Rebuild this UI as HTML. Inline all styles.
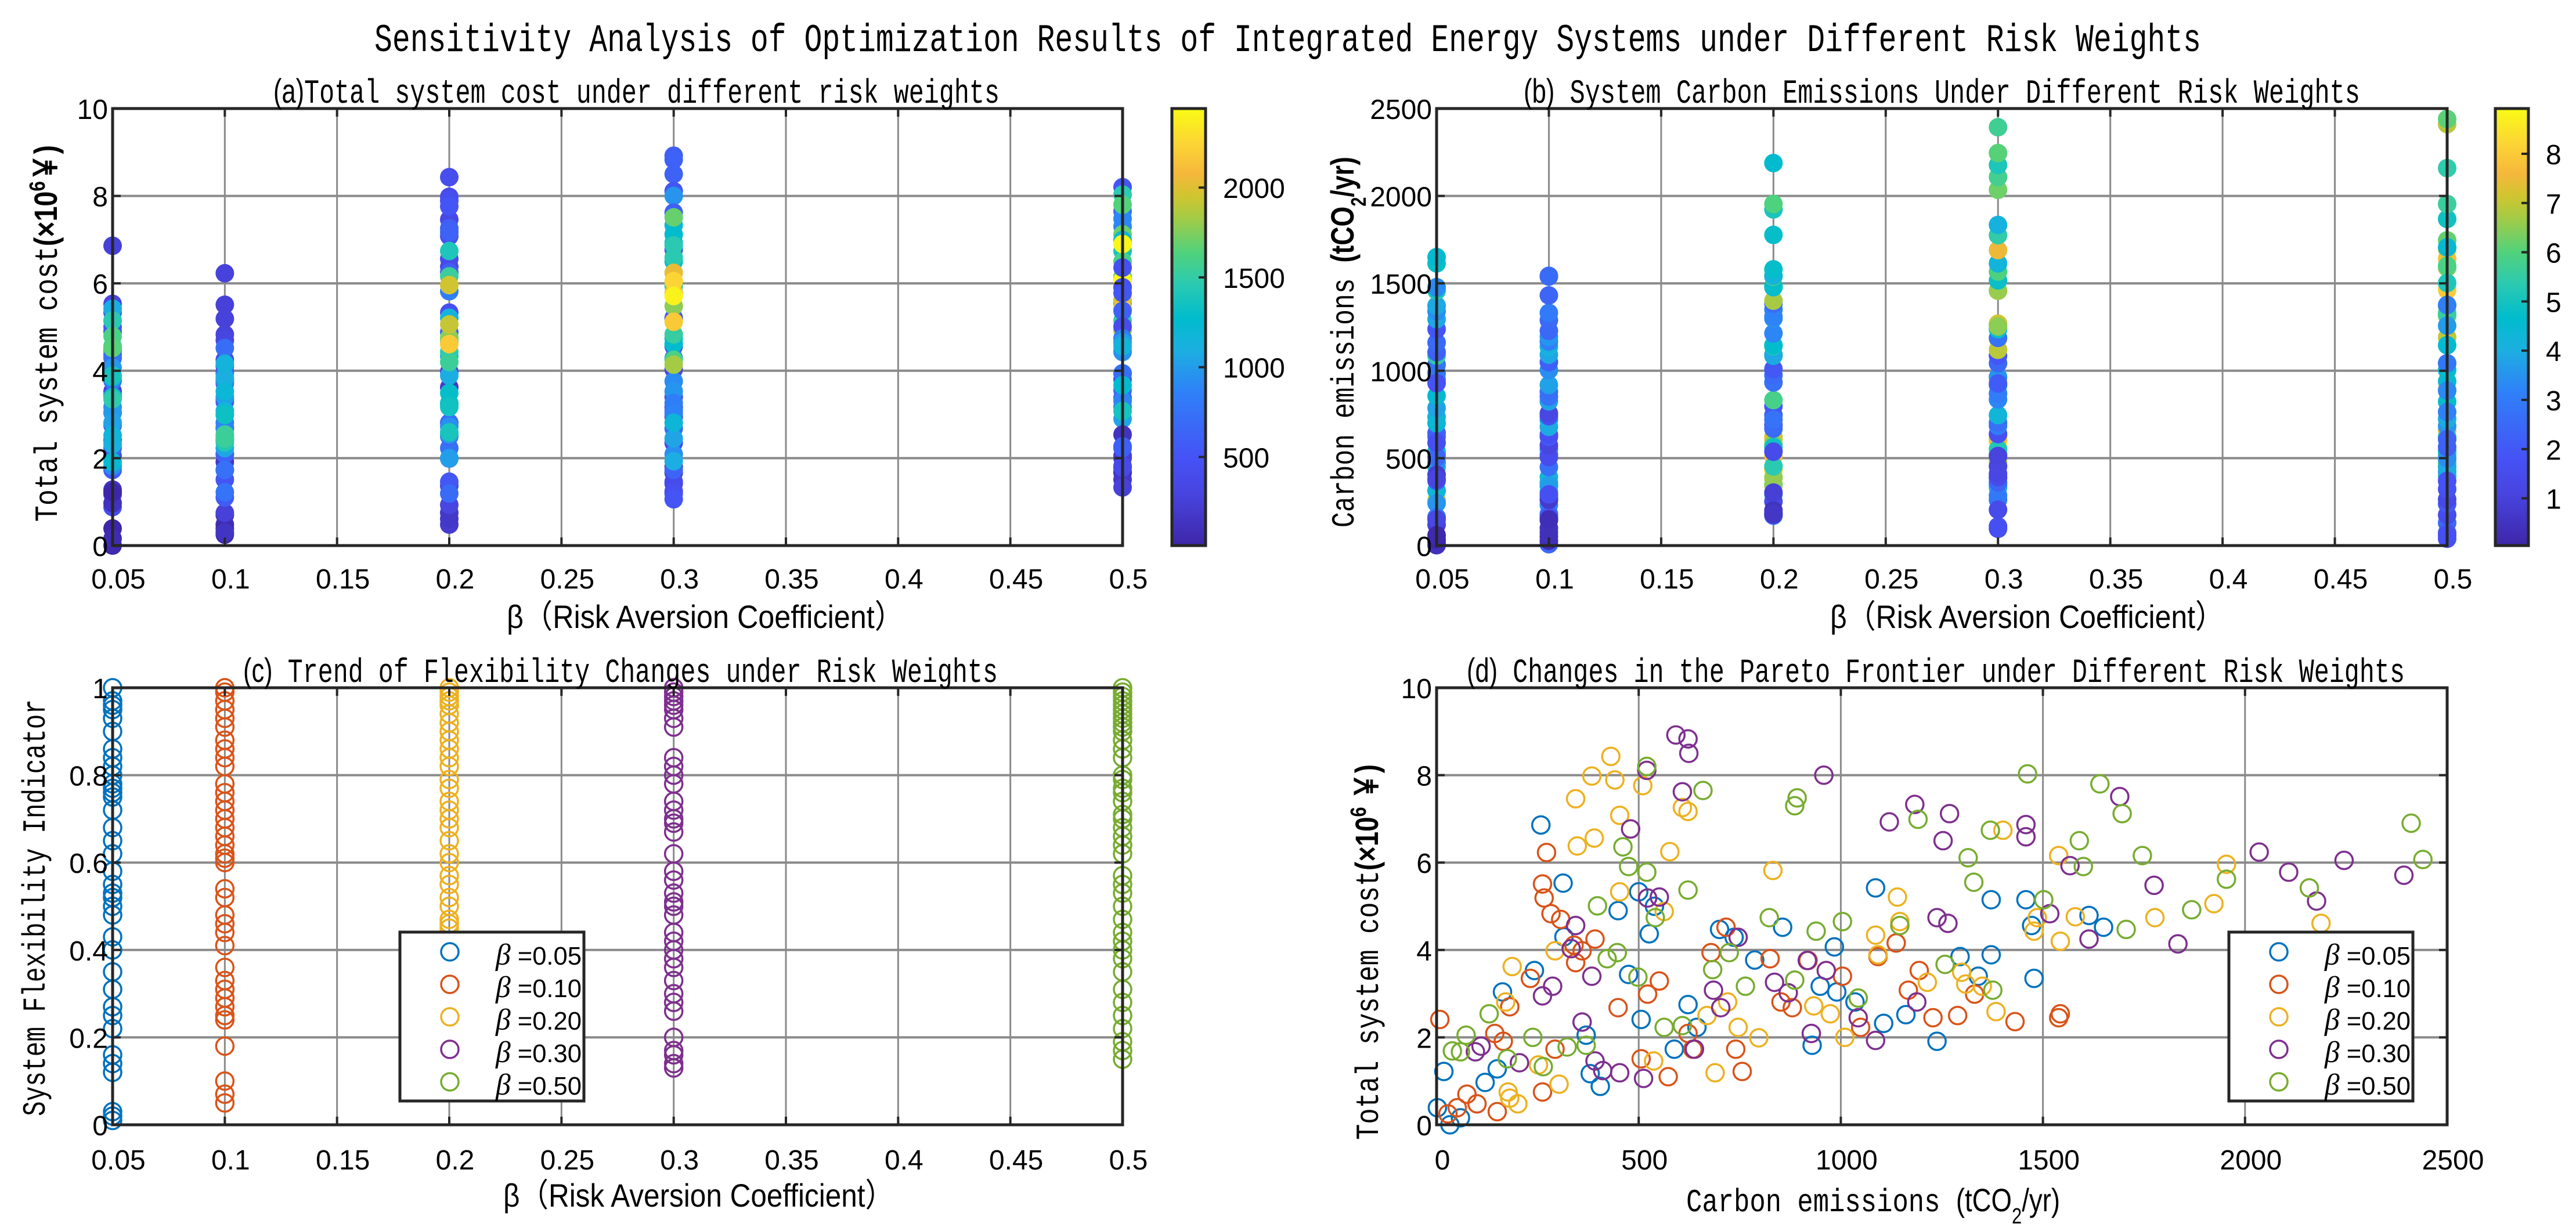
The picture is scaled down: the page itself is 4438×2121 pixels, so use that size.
<!DOCTYPE html>
<html><head><meta charset="utf-8">
<style>
html,body{margin:0;padding:0;background:#fff;}
svg{display:block;}
text{fill:#000;}
</style></head>
<body>
<svg id="fig" xmlns="http://www.w3.org/2000/svg" width="4438" height="2121" viewBox="0 0 4438 2121">
<rect x="0" y="0" width="4438" height="2121" fill="#fff"/>
<defs>
<linearGradient id="parula" x1="0" y1="1" x2="0" y2="0">
<stop offset="0" stop-color="#3e26a8"/><stop offset="0.12" stop-color="#4845e0"/><stop offset="0.2" stop-color="#4652f5"/>
<stop offset="0.35" stop-color="#2f80f8"/><stop offset="0.45" stop-color="#1bb0e0"/><stop offset="0.52" stop-color="#00bccd"/>
<stop offset="0.6" stop-color="#2ccab0"/><stop offset="0.67" stop-color="#50d27c"/><stop offset="0.75" stop-color="#a4cb45"/>
<stop offset="0.8" stop-color="#d0c530"/><stop offset="0.85" stop-color="#f5b73b"/><stop offset="0.92" stop-color="#fcd535"/>
<stop offset="1" stop-color="#f9fb14"/>
</linearGradient>
</defs>
<text x="645" y="88" font-family="Liberation Mono, monospace" font-size="68" textLength="3147" lengthAdjust="spacingAndGlyphs">Sensitivity Analysis of Optimization Results of Integrated Energy Systems under Different Risk Weights</text>
<g id="root"></g>
</svg>
<script>
// ---- data ----
const betas = [0.05, 0.10, 0.20, 0.30, 0.50];
const betaLabels = ['=0.05', '=0.10', '=0.20', '=0.30', '=0.50'];
const cost05 = [6.86,5.53,5.33,4.9,5.0,4.37,4.3,3.53,3.04,3.44,2.05,2.41,2.75,2.23,1.73,0.88,1.17,0.97,1.28,1.22,0.39,0.0,0.16,4.47,4.29,3.77,4.52,4.07,3.17,3.04,1.82,2.81,5.42,2.32,2.52,1.91,3.85,3.4,5.15,3.89,5.15,4.56,3.35,4.79,4.52];
const carbon05 = [258,313,500,449,539,526,315,242,163,475,370,506,622,644,588,405,380,120,150,18,2,33,59,700,736,787,856,984,949,990,929,1035,1086,1106,1161,1238,1295,1340,1372,1372,1458,1472,1478,1614,1650];
const cost10 = [2.41,6.23,5.51,5.19,4.83,4.7,4.11,3.98,4.25,3.71,3.35,2.7,1.91,2.09,0.7,0.48,0.25,0.39,0.3,0.75,1.73,2.68,2.99,3.29,1.51,1.1,2.09,1.73,4.52,3.94,1.73,1.22,3.8,2.81,2.68,3.76,3.4,2.23,3.85,4.16,3.08,3.53,2.45,2.5,2.99,2.36,2.45,2.54];
const carbon10 = [8,272,262,266,283,307,340,360,392,344,232,181,165,144,75,100,28,51,150,262,293,449,522,551,506,573,622,634,716,679,740,756,825,852,880,919,1004,1049,1092,1137,1167,1194,1228,1289,1331,1431,1539,1543];
const cost20 = [8.43,7.98,7.89,7.46,7.08,6.38,6.56,7.76,7.26,7.17,6.25,5.33,4.88,3.98,3.62,2.81,1.37,0.75,0.48,0.61,0.93,1.46,1.19,2.23,1.99,2.5,2.81,5.82,2.72,2.54,2.0,4.34,3.89,5.21,4.65,3.26,3.49,3.22,3.17,2.59,6.74,4.43,4.74,6.16,4.2,4.76,4.74,5.06,5.96,4.61];
const carbon20 = [431,384,441,344,453,348,390,510,608,622,577,453,563,293,187,171,252,177,201,181,303,537,689,746,797,669,720,832,933,974,1010,1086,1092,1140,1146,1214,1299,1309,1350,1384,1401,1478,1486,1539,1543,1580,1777,1923,1954,2188];
const cost30 = [8.92,8.83,8.5,8.11,8.0,7.62,6.77,5.19,5.21,4.56,4.03,3.17,2.95,3.4,2.35,1.8,1.67,1.42,1.46,1.24,1.19,1.06,1.73,3.08,2.68,4.29,3.76,3.53,3.26,3.02,2.09,2.45,1.93,6.93,7.33,2.81,4.74,4.61,7.12,6.5,6.87,6.59,4.83,5.93,4.25,7.51,5.48,4.14,6.24,5.78,5.12,6.05,5.71];
const carbon30 = [592,622,624,520,958,608,480,522,551,344,333,287,262,384,360,110,96,205,392,411,453,512,638,685,703,746,917,964,836,870,927,1043,1086,1120,1183,1188,1238,1265,1269,1253,1458,1458,1517,1567,1614,1690,1775,1834,2035,2108,2177,2245,2393];
const cost50 = [8.2,7.65,7.3,7.48,8.03,7.8,7.12,6.99,6.74,6.11,5.55,6.5,5.91,6.16,5.15,4.47,4.92,5.62,5.42,6.9,6.07,6.36,5.91,5.78,5.37,5.01,4.74,4.74,4.43,4.65,4.56,3.8,3.94,3.38,3.55,3.94,3.17,3.31,2.9,3.67,3.08,2.54,2.05,1.69,1.67,1.51,2.0,1.33,1.78,1.82,2.23,2.27];
const carbon50 = [520,659,886,892,1462,1641,1696,1191,1370,1315,1329,1590,1600,1746,1502,1706,1868,1954,2159,2411,2440,461,475,520,622,398,541,823,939,1004,1146,422,447,498,683,724,764,886,1043,1258,1376,130,73,39,59,175,238,264,323,370,563,608];
const flex05 = [1.0,0.97,0.96,0.95,0.93,0.9,0.86,0.84,0.82,0.8,0.78,0.77,0.76,0.75,0.72,0.68,0.65,0.62,0.58,0.55,0.53,0.52,0.5,0.48,0.43,0.4,0.35,0.31,0.27,0.25,0.22,0.16,0.14,0.12,0.03,0.02,0.01];
const flex10 = [1.0,0.99,0.97,0.95,0.93,0.91,0.88,0.86,0.84,0.82,0.78,0.76,0.74,0.72,0.7,0.68,0.66,0.64,0.62,0.61,0.6,0.54,0.52,0.48,0.46,0.44,0.41,0.36,0.33,0.31,0.29,0.27,0.25,0.24,0.18,0.1,0.07,0.05];
const flex20 = [1.0,0.99,0.98,0.97,0.96,0.94,0.92,0.9,0.88,0.86,0.84,0.82,0.79,0.77,0.74,0.72,0.7,0.68,0.65,0.62,0.6,0.57,0.55,0.52,0.5,0.47,0.46,0.45];
const flex30 = [1.0,0.99,0.98,0.97,0.96,0.95,0.93,0.91,0.84,0.82,0.8,0.78,0.74,0.72,0.7,0.69,0.67,0.62,0.58,0.56,0.53,0.51,0.5,0.48,0.44,0.42,0.4,0.38,0.36,0.33,0.3,0.28,0.26,0.2,0.17,0.16,0.14,0.13];
const flex50 = [1.0,0.99,0.98,0.97,0.96,0.95,0.94,0.93,0.92,0.91,0.9,0.88,0.86,0.84,0.8,0.79,0.77,0.76,0.74,0.71,0.7,0.68,0.66,0.64,0.62,0.57,0.55,0.53,0.5,0.47,0.44,0.42,0.4,0.38,0.35,0.31,0.28,0.25,0.22,0.19,0.17,0.15];
const betaTicks = [0.05,0.1,0.15,0.2,0.25,0.3,0.35,0.4,0.45,0.5];
const betaTickLabels = ['0.05','0.1','0.15','0.2','0.25','0.3','0.35','0.4','0.45','0.5'];
const costTicks = [0,2,4,6,8,10];
const carbonTicks = [0,500,1000,1500,2000,2500];
const flexTicks = [0,0.2,0.4,0.6,0.8,1];
const flexTickLabels = ['0','0.2','0.4','0.6','0.8','1'];
const cbarCarbonTicks = [500,1000,1500,2000];
const cbarCostTicks = [1,2,3,4,5,6,7,8];

const costs = [cost05,cost10,cost20,cost30,cost50];
const carbons = [carbon05,carbon10,carbon20,carbon30,carbon50];
const flexes = [flex05,flex10,flex20,flex30,flex50];
const seriesColors = ['#0072BD','#D95319','#EDB120','#7E2F8E','#77AC30'];

// ---- helpers ----
const NS = 'http://www.w3.org/2000/svg';
const root = document.getElementById('root');
function el(tag, attrs, parent){
  const e = document.createElementNS(NS, tag);
  for (const k in attrs) e.setAttribute(k, attrs[k]);
  (parent||root).appendChild(e);
  return e;
}
const parStops = [[0,[62,38,168]],[0.12,[72,69,224]],[0.2,[70,82,245]],[0.35,[47,128,248]],[0.45,[27,176,224]],[0.52,[0,188,205]],[0.6,[44,202,176]],[0.67,[80,210,124]],[0.75,[164,203,69]],[0.8,[208,197,48]],[0.85,[245,183,59]],[0.92,[252,213,53]],[1,[249,251,20]]];
function parula(t){
  t = Math.max(0, Math.min(1, t));
  for (let i=1;i<parStops.length;i++){
    if (t <= parStops[i][0]){
      const a = parStops[i-1], b = parStops[i];
      const f = (t-a[0])/(b[0]-a[0]);
      const c = a[1].map((v,k)=>Math.round(v+(b[1][k]-v)*f));
      return 'rgb('+c.join(',')+')';
    }
  }
  return 'rgb(249,251,20)';
}
function scale(d0,d1,p0,p1){ return v => p0 + (v-d0)/(d1-d0)*(p1-p0); }

function grid(name, L, R, T, B, xs, ys, xt, yt){
  const g = el('g', {});
  
  
  xt.forEach(v=>{
    const x = xs(v);
    const gl = el('line', {x1:x, x2:x, y1:T, y2:B, stroke:'#8a8a8a', 'stroke-width':3}, g);
    
    
  });
  yt.forEach(v=>{
    const y = ys(v);
    const gl = el('line', {x1:L, x2:R, y1:y, y2:y, stroke:'#8a8a8a', 'stroke-width':4}, g);
    
    
  });
}
function ticks(name, L, R, T, B, xs, ys, xt, xtl, yt, ytl, tickBase){
  const g = el('g', {});
  
  
  el('rect', {x:L, y:T, width:R-L, height:B-T, fill:'none', stroke:'#262626', 'stroke-width':5}, g);
  xt.forEach((v,i)=>{
    const x = xs(v);
    el('line', {x1:x, x2:x, y1:B, y2:B-14, stroke:'#262626', 'stroke-width':4}, g);
    el('line', {x1:x, x2:x, y1:T, y2:T+14, stroke:'#262626', 'stroke-width':4}, g);
    const t = el('text', {x:x+10, y:tickBase, 'font-family':'Liberation Sans, sans-serif', 'font-size':48, 'text-anchor':'middle'}, g);
    t.textContent = xtl[i];
    
    
  });
  yt.forEach((v,i)=>{
    const y = ys(v);
    el('line', {x1:L, x2:L+14, y1:y, y2:y, stroke:'#262626', 'stroke-width':4}, g);
    el('line', {x1:R, x2:R-14, y1:y, y2:y, stroke:'#262626', 'stroke-width':4}, g);
    const t = el('text', {x:L-8, y:y+18, 'font-family':'Liberation Sans, sans-serif', 'font-size':48, 'text-anchor':'end'}, g);
    t.textContent = ytl[i];
    
    
  });
}
function label(name, txt, x, y, len, size, rot, family){
  const t = el('text', {x:x, y:y, 'font-family':family||'Liberation Mono, monospace', 'font-size':size, textLength:len, lengthAdjust:'spacingAndGlyphs'});
  if (rot) t.setAttribute('transform', 'rotate(-90 '+x+' '+y+')');
  t.innerHTML = txt;
  
  
  return t;
}
function colorbar(name, x0, x1, T, B, vmin, vmax, tks){
  const g = el('g', {});
  
  
  el('rect', {x:x0, y:T, width:x1-x0, height:B-T, fill:'url(#parula)', stroke:'#262626', 'stroke-width':5}, g);
  const cs = scale(vmin, vmax, B, T);
  tks.forEach(v=>{
    const y = cs(v);
    el('line', {x1:x1, x2:x1-12, y1:y, y2:y, stroke:'#262626', 'stroke-width':4}, g);
    const t = el('text', {x:x1+30, y:y+18, 'font-family':'Liberation Sans, sans-serif', 'font-size':48}, g);
    t.textContent = v;
    
    
  });
}
function legend(name, x0, y0){
  const g = el('g', {});
  
  
  el('rect', {x:x0, y:y0, width:317, height:291, fill:'#fff', stroke:'#262626', 'stroke-width':5}, g);
  betas.forEach((b,i)=>{
    const y = y0 + 34 + i*56;
    const c = el('circle', {cx:x0+86, cy:y, r:15, fill:'none', stroke:seriesColors[i], 'stroke-width':3.5}, g);
    
    
    const t = el('text', {x:x0+165, y:y+22, 'font-family':'Liberation Sans, sans-serif', 'font-size':44, textLength:148, lengthAdjust:'spacingAndGlyphs'}, g);
    t.innerHTML = '<tspan font-family="Liberation Serif, serif" font-style="italic" font-size="52">β</tspan> ' + betaLabels[i];
    
    
  });
}

// ---- panel (a) ----
{
  const L=194,R=1934,T=187,B=940;
  const xs = scale(0.05,0.5,L,R), ys = scale(0,10,B,T);
  grid('panel-a', L,R,T,B, xs, ys, betaTicks, costTicks);
  const g = el('g', {});
  
  
  betas.forEach((b,i)=>{
    costs[i].forEach((c,j)=>{
      const d = el('circle', {cx:xs(b), cy:ys(c), r:16, fill:parula((carbons[i][j]-7)/(2440-7))}, g);
      
      
    });
  });
  ticks('panel-a', L,R,T,B, xs, ys, betaTicks, betaTickLabels, costTicks, costTicks.map(String), 1014);
  colorbar('colorbar-a', 2019, 2077, T, B, 7, 2440, cbarCarbonTicks);
  label('panel-a-title', '<tspan font-family="Liberation Sans, sans-serif">(a)</tspan>Total system cost under different risk weights', 471, 177, 1251, 58);
  label('panel-a-y-axis-title', 'Total  system  cost<tspan font-family="Liberation Sans, sans-serif" font-weight="bold">(×10<tspan baseline-shift="super" font-size="38">6</tspan>￥)</tspan>', 98, 899, 649, 56, true);
  label('panel-a-x-axis-title', 'β（Risk Aversion Coefficient）', 873, 1082, 684, 56, false, 'Liberation Sans, "Noto Sans CJK SC", sans-serif');
}
// ---- panel (b) ----
{
  const L=2475,R=4216,T=187,B=940;
  const xs = scale(0.05,0.5,L,R), ys = scale(0,2500,B,T);
  grid('panel-b', L,R,T,B, xs, ys, betaTicks, carbonTicks);
  const g = el('g', {});
  
  
  betas.forEach((b,i)=>{
    carbons[i].forEach((c,j)=>{
      const d = el('circle', {cx:xs(b), cy:ys(c), r:16, fill:parula((costs[i][j]-0.04)/(8.92-0.04))}, g);
      
      
    });
  });
  ticks('panel-b', L,R,T,B, xs, ys, betaTicks, betaTickLabels, carbonTicks, carbonTicks.map(String), 1014);
  colorbar('colorbar-b', 4299, 4356, T, B, 0.04, 8.92, cbarCostTicks);
  label('panel-b-title', '<tspan font-family="Liberation Sans, sans-serif">(b)</tspan> System Carbon Emissions Under Different Risk Weights', 2625, 177, 1441, 58);
  label('panel-b-y-axis-title', 'Carbon  emissions  <tspan font-family="Liberation Sans, sans-serif" font-weight="bold">(tCO<tspan baseline-shift="sub" font-size="36">2</tspan>/yr)</tspan>', 2332, 909, 639, 56, true);
  label('panel-b-x-axis-title', 'β（Risk Aversion Coefficient）', 3153, 1082, 679, 56, false, 'Liberation Sans, "Noto Sans CJK SC", sans-serif');
}
// ---- panel (c) ----
{
  const L=194,R=1934,T=1185,B=1938;
  const xs = scale(0.05,0.5,L,R), ys = scale(0,1,B,T);
  grid('panel-c', L,R,T,B, xs, ys, betaTicks, flexTicks);
  betas.forEach((b,i)=>{
    const g = el('g', {});
    
    
    flexes[i].forEach(v=>{
      const d = el('circle', {cx:xs(b), cy:ys(v), r:15, fill:'none', stroke:seriesColors[i], 'stroke-width':3.5}, g);
      
      
    });
  });
  ticks('panel-c', L,R,T,B, xs, ys, betaTicks, betaTickLabels, flexTicks, flexTickLabels, 2015);
  legend('legend-c', 689, 1606);
  label('panel-c-title', '<tspan font-family="Liberation Sans, sans-serif">(c)</tspan> Trend of Flexibility Changes under Risk Weights', 419, 1175, 1300, 58);
  label('panel-c-y-axis-title', 'System  Flexibility  Indicator', 77, 1923, 718, 56, true);
  label('panel-c-x-axis-title', 'β（Risk Aversion Coefficient）', 867, 2079, 673, 56, false, 'Liberation Sans, "Noto Sans CJK SC", sans-serif');
}
// ---- panel (d) ----
{
  const L=2475,R=4216,T=1185,B=1938;
  const xs = scale(0,2500,L,R), ys = scale(0,10,B,T);
  grid('panel-d', L,R,T,B, xs, ys, carbonTicks, costTicks);
  betas.forEach((b,i)=>{
    const g = el('g', {});
    
    
    carbons[i].forEach((c,j)=>{
      const d = el('circle', {cx:xs(c), cy:ys(costs[i][j]), r:15, fill:'none', stroke:seriesColors[i], 'stroke-width':3.5}, g);
      
      
    });
  });
  ticks('panel-d', L,R,T,B, xs, ys, carbonTicks, carbonTicks.map(String), costTicks, costTicks.map(String), 2015);
  legend('legend-d', 3840, 1606);
  label('panel-d-title', '<tspan font-family="Liberation Sans, sans-serif">(d)</tspan> Changes in the Pareto Frontier under Different Risk Weights', 2527, 1175, 1616, 58);
  label('panel-d-y-axis-title', 'Total  system  cost<tspan font-family="Liberation Sans, sans-serif" font-weight="bold">(×10<tspan baseline-shift="super" font-size="38">6</tspan> ￥)</tspan>', 2374, 1964, 647, 56, true);
  label('panel-d-x-axis-title', 'Carbon emissions <tspan font-family="Liberation Sans, sans-serif">(tCO<tspan baseline-shift="sub" font-size="38">2</tspan>/yr)</tspan>', 2905, 2087, 644, 56);
}
</script>
</body></html>
